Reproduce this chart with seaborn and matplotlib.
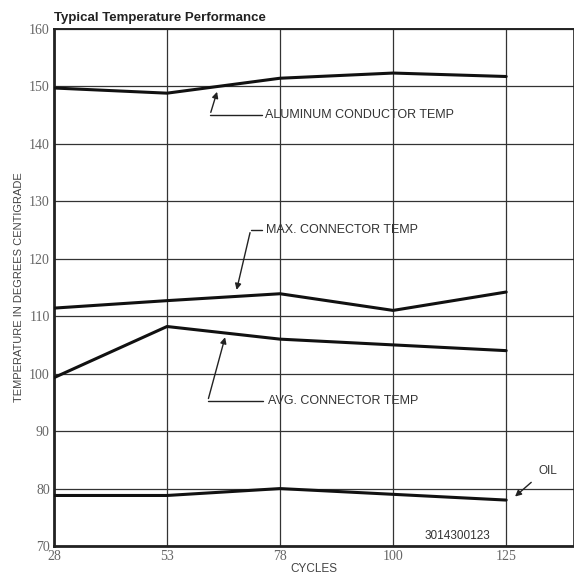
import numpy as np
import pandas as pd
import matplotlib
matplotlib.use('Agg')
import matplotlib.pyplot as plt
import seaborn as sns

# data
cycles = ['28', '53', '78', '100', '125']
aluminum_conductor = [149.7, 148.8, 151.4, 152.3, 151.7]
max_connector = [111.4, 112.7, 113.9, 111.0, 114.2]
avg_connector = [99.3, 108.2, 106.0, 105.0, 104.0]
oil = [78.8, 78.8, 80.0, 79.0, 78.0]
y_ticks = list(range(70, 161, 10))

series = {'ALUMINUM CONDUCTOR TEMP': aluminum_conductor,
          'MAX. CONNECTOR TEMP': max_connector,
          'AVG. CONNECTOR TEMP': avg_connector,
          'OIL': oil}

## long-form table for seaborn
rows = []
for name, vals in series.items():
    for i, v in enumerate(vals):
        rows.append({'pos': i, 'cycle': cycles[i], 'temp': v, 'series': name})
df = pd.DataFrame(rows)

sns.set_style('white')
plt.rcParams['font.family'] = ['Liberation Sans', 'DejaVu Sans']

fig = plt.figure(figsize=(5.74, 5.76), dpi=100)
ax = fig.add_axes([0.094, 0.052, 0.906, 0.898])

# grid lines
for i in range(len(cycles)):
    ax.axvline(i, color='#333333', lw=0.9, zorder=1)
for y in y_ticks:
    ax.axhline(y, color='#333333', lw=0.9, zorder=1)

sns.lineplot(data=df, x='pos', y='temp', units='series', estimator=None,
             color='#111111', lw=2.2, ax=ax, zorder=3)

ax.set_xlim(0, 4.6)
ax.set_ylim(70, 160)
ax.set_xticks(range(len(cycles)))
ax.set_xticklabels(cycles)
ax.set_yticks(y_ticks)
ax.tick_params(axis='both', length=0, labelsize=10, labelcolor='#666666', pad=3)
for lab in ax.get_xticklabels() + ax.get_yticklabels():
    lab.set_family(['Liberation Serif', 'DejaVu Serif'])
for s in ax.spines.values():
    s.set_color('#222222')
ax.spines['left'].set_linewidth(2.0)
ax.spines['bottom'].set_linewidth(2.0)
ax.spines['top'].set_linewidth(1.4)
ax.spines['right'].set_linewidth(1.2)

ax.set_xlabel('CYCLES', fontsize=8.5, color='#444444', labelpad=0)
ax.set_ylabel('TEMPERATURE IN DEGREES CENTIGRADE', fontsize=8, color='#444444')
ax.yaxis.set_label_coords(-0.057, 0.5)
fig.text(0.094, 0.968, 'Typical Temperature Performance', fontsize=9.5,
         fontweight='bold', color='#222222', ha='left', va='center')

## callouts with leader lines
lab_kw = dict(fontsize=9, color='#333333', va='center', ha='left')
arr = dict(arrowstyle='-|>', color='#222222', lw=1.0, mutation_scale=9)

def callout(text, text_xy, line_end, corner_xy, tip_xy):
    ax.text(text_xy[0], text_xy[1], text, **lab_kw)
    ax.plot([line_end, corner_xy[0]], [text_xy[1], corner_xy[1]],
            color='#222222', lw=1.0, zorder=2)
    ax.annotate('', xy=tip_xy, xytext=corner_xy, arrowprops=arr, zorder=2)

callout('ALUMINUM CONDUCTOR TEMP', (1.87, 145.0), 1.84, (1.38, 145.0), (1.45, 149.5))
callout('MAX. CONNECTOR TEMP', (1.88, 125.0), 1.84, (1.74, 125.0), (1.61, 114.1))
callout('AVG. CONNECTOR TEMP', (1.89, 95.2), 1.85, (1.36, 95.2), (1.52, 106.8))

ax.text(4.37, 83.0, 'OIL', fontsize=8.5, color='#333333', ha='center', va='center')
ax.annotate('', xy=(4.06, 78.3), xytext=(4.24, 81.4), arrowprops=arr)
ax.text(3.28, 71.8, '3014300123', fontsize=8.5, color='#333333', ha='left', va='center')

fig.savefig('out.png', dpi=100)
